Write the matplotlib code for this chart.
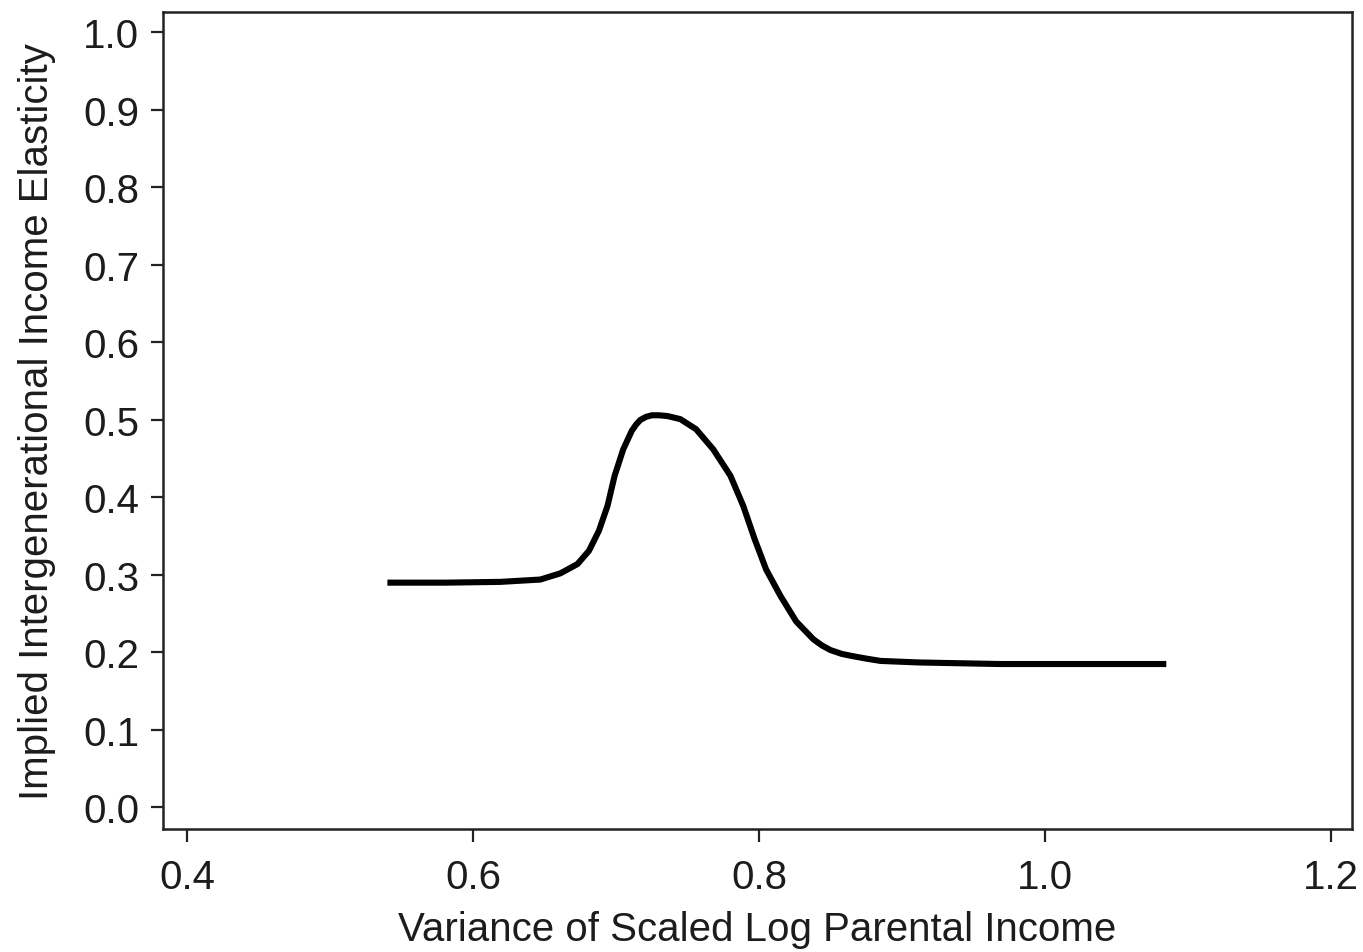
import matplotlib
matplotlib.use("Agg")
import matplotlib.pyplot as plt

# Implied elasticity against variance of scaled log parental income
variance = [0.540, 0.580, 0.619, 0.647, 0.661, 0.673, 0.681, 0.688, 0.694,
            0.699, 0.705, 0.711, 0.714, 0.717, 0.721, 0.725, 0.730, 0.736,
            0.745, 0.756, 0.768, 0.780, 0.789, 0.797, 0.805, 0.815, 0.826,
            0.838, 0.844, 0.850, 0.858, 0.866, 0.875, 0.885, 0.912, 0.968,
            1.030, 1.085]
elasticity = [0.290, 0.290, 0.291, 0.294, 0.302, 0.314, 0.331, 0.357, 0.389,
              0.428, 0.462, 0.486, 0.494, 0.500, 0.504, 0.506, 0.506, 0.505,
              0.501, 0.488, 0.462, 0.428, 0.389, 0.346, 0.307, 0.273, 0.240,
              0.217, 0.209, 0.203, 0.198, 0.195, 0.192, 0.189, 0.187, 0.185,
              0.185, 0.185]

x_ticks = [0.4, 0.6, 0.8, 1.0, 1.2]
y_ticks = [0.0, 0.1, 0.2, 0.3, 0.4, 0.5, 0.6, 0.7, 0.8, 0.9, 1.0]

plt.rcParams["font.family"] = ["Liberation Sans", "DejaVu Sans"]
text_color = "#1c1c1c"

fig = plt.figure(figsize=(13.63, 9.53), dpi=100)
ax = fig.add_axes([0.1196, 0.129, 0.8724, 0.857])

ax.plot(variance, elasticity, color="black", linewidth=4.4,
        solid_capstyle="butt", solid_joinstyle="round")

ax.set_xlim(0.383, 1.215)
ax.set_ylim(-0.028, 1.026)
ax.set_xticks(x_ticks)
ax.set_xticklabels([f"{v:.1f}" for v in x_ticks])
ax.set_yticks(y_ticks)
ax.set_yticklabels([f"{v:.1f}" for v in y_ticks])

for side in ["top", "bottom", "left", "right"]:
    ax.spines[side].set_linewidth(1.8)
    ax.spines[side].set_color("#222222")

ax.tick_params(axis="both", direction="out", length=9, width=1.6,
               color="#222222", labelsize=29, labelcolor=text_color)
ax.tick_params(axis="x", pad=12)
ax.tick_params(axis="y", pad=8)

ax.set_xlabel("Variance of Scaled Log Parental Income", fontsize=29,
              color=text_color, labelpad=10)
ax.set_ylabel("Implied Intergenerational Income Elasticity", fontsize=29,
              color=text_color, labelpad=20)

fig.savefig("out.png", dpi=100, facecolor="white")
